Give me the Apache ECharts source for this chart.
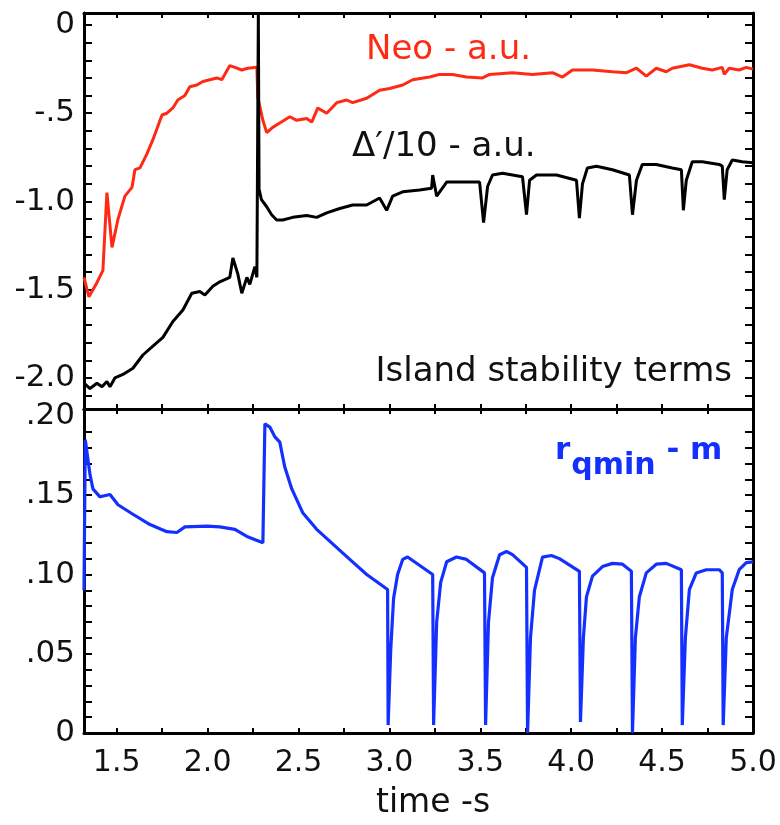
<!DOCTYPE html>
<html>
<head>
<meta charset="utf-8">
<script src="https://cdn.jsdelivr.net/npm/echarts@6/dist/echarts.min.js"></script>
<style>
html,body{margin:0;padding:0;background:#fff;}
#chart{width:780px;height:825px;}
</style>
</head>
<body>
<div id="chart"></div>
<script>
// ---- Data ----
var neoTime = [1.320,1.347,1.391,1.424,1.446,1.474,1.507,1.545,1.584,1.600,1.628,1.666,1.699,1.749,1.776,1.809,1.836,1.875,1.902,1.941,1.974,2.012,2.051,2.078,2.122,2.150,2.188,2.221,2.271,2.276,2.304,2.325,2.358,2.397,2.452,2.490,2.545,2.573,2.606,2.655,2.688,2.710,2.765,2.798,2.875,2.946,3.001,3.073,3.128,3.221,3.276,3.347,3.424,3.512,3.551,3.677,3.787,3.897,3.952,4.007,4.117,4.227,4.304,4.359,4.413,4.468,4.523,4.556,4.650,4.721,4.776,4.831,4.842,4.869,4.924,4.963,5.000];
var neoValue = [-1.43,-1.54,-1.46,-1.39,-0.95,-1.26,-1.10,-0.97,-0.92,-0.82,-0.81,-0.73,-0.65,-0.51,-0.50,-0.47,-0.425,-0.40,-0.35,-0.34,-0.32,-0.31,-0.30,-0.31,-0.23,-0.24,-0.255,-0.245,-0.24,-0.41,-0.54,-0.61,-0.58,-0.555,-0.52,-0.54,-0.53,-0.55,-0.47,-0.50,-0.465,-0.44,-0.425,-0.44,-0.415,-0.37,-0.36,-0.34,-0.31,-0.295,-0.28,-0.28,-0.295,-0.30,-0.28,-0.27,-0.28,-0.27,-0.295,-0.255,-0.255,-0.265,-0.27,-0.245,-0.29,-0.245,-0.265,-0.245,-0.225,-0.245,-0.255,-0.24,-0.28,-0.245,-0.255,-0.24,-0.25];

var deltaTime = [1.320,1.353,1.391,1.419,1.446,1.463,1.490,1.534,1.589,1.644,1.699,1.754,1.809,1.864,1.913,1.957,1.985,2.029,2.067,2.122,2.139,2.166,2.188,2.216,2.232,2.260,2.271,2.276,2.279,2.283,2.296,2.325,2.352,2.380,2.413,2.468,2.545,2.600,2.655,2.727,2.798,2.875,2.946,2.985,3.018,3.073,3.166,3.232,3.238,3.260,3.315,3.402,3.496,3.518,3.540,3.567,3.622,3.732,3.754,3.771,3.809,3.919,4.029,4.045,4.062,4.089,4.139,4.227,4.320,4.337,4.359,4.391,4.468,4.556,4.606,4.617,4.633,4.666,4.721,4.814,4.831,4.842,4.858,4.886,4.941,5.000];
var deltaValue = [-2.03,-2.06,-2.03,-2.05,-2.02,-2.05,-2.00,-1.98,-1.945,-1.87,-1.82,-1.77,-1.68,-1.615,-1.52,-1.51,-1.53,-1.48,-1.455,-1.43,-1.32,-1.41,-1.52,-1.43,-1.47,-1.37,-1.43,-1.43,0.068,-0.93,-0.99,-1.03,-1.075,-1.105,-1.105,-1.09,-1.08,-1.09,-1.065,-1.04,-1.02,-1.02,-0.98,-1.05,-0.97,-0.945,-0.935,-0.925,-0.85,-0.97,-0.89,-0.89,-0.89,-1.12,-0.915,-0.85,-0.84,-0.86,-1.075,-0.88,-0.85,-0.85,-0.88,-1.095,-0.90,-0.81,-0.80,-0.82,-0.85,-1.075,-0.88,-0.79,-0.79,-0.81,-0.82,-1.05,-0.88,-0.775,-0.775,-0.79,-0.80,-0.99,-0.82,-0.765,-0.775,-0.78];

var rqTime = [1.320,1.327,1.353,1.369,1.408,1.463,1.507,1.589,1.683,1.776,1.831,1.875,1.996,2.067,2.150,2.216,2.304,2.315,2.342,2.369,2.397,2.424,2.463,2.523,2.600,2.782,2.875,2.990,2.993,3.007,3.023,3.045,3.073,3.100,3.238,3.243,3.260,3.282,3.315,3.369,3.424,3.523,3.529,3.545,3.567,3.606,3.644,3.677,3.754,3.760,3.776,3.798,3.842,3.891,3.935,4.045,4.051,4.067,4.084,4.117,4.172,4.227,4.282,4.331,4.337,4.353,4.375,4.413,4.468,4.523,4.606,4.611,4.628,4.650,4.688,4.743,4.814,4.831,4.836,4.853,4.886,4.924,4.963,5.000];
var rqValue = [0.090,0.185,0.163,0.154,0.149,0.1505,0.144,0.138,0.1315,0.127,0.1265,0.130,0.1305,0.130,0.1285,0.124,0.120,0.195,0.193,0.187,0.1835,0.168,0.154,0.139,0.1285,0.1095,0.100,0.0905,0.005,0.052,0.085,0.100,0.1095,0.111,0.100,0.005,0.070,0.095,0.108,0.111,0.1095,0.101,0.005,0.070,0.098,0.1125,0.1145,0.1125,0.1045,0.000,0.060,0.090,0.111,0.112,0.110,0.102,0.007,0.060,0.086,0.099,0.105,0.107,0.1065,0.102,0.000,0.060,0.086,0.101,0.1065,0.107,0.103,0.005,0.060,0.0905,0.101,0.103,0.103,0.101,0.005,0.060,0.0905,0.103,0.1075,0.108];

// ---- Axis ticks and labels ----
var xTickValues = [1.5,1.75,2.0,2.25,2.5,2.75,3.0,3.25,3.5,3.75,4.0,4.25,4.5,4.75,5.0];
var xLabelValues = [1.5,2.0,2.5,3.0,3.5,4.0,4.5,5.0];
var xLabelText = ['1.5','2.0','2.5','3.0','3.5','4.0','4.5','5.0'];
var topYTicks = [-2.1,-2.0,-1.9,-1.8,-1.7,-1.6,-1.5,-1.4,-1.3,-1.2,-1.1,-1.0,-0.9,-0.8,-0.7,-0.6,-0.5,-0.4,-0.3,-0.2,-0.1,0];
var topYLabels = [0,-0.5,-1.0,-1.5,-2.0];
var topYLabelText = ['0','-.5','-1.0','-1.5','-2.0'];
var botYTicks = [0.01,0.02,0.03,0.04,0.05,0.06,0.07,0.08,0.09,0.10,0.11,0.12,0.13,0.14,0.15,0.16,0.17,0.18,0.19];
var botYLabels = [0,0.05,0.10,0.15,0.20];
var botYLabelText = ['0','.05','.10','.15','.20'];

function zip(a,b){var o=[];for(var i=0;i<a.length;i++)o.push([a[i],b[i]]);return o;}
function lookup(vals,texts){return function(v){for(var i=0;i<vals.length;i++){if(Math.abs(vals[i]-v)<1e-6)return texts[i];}return '';};}

var FONT = 'DejaVu Sans';

function xAx(grid,pos,labels){
  return {
    type:'value', gridIndex:grid, position:pos, min:1.32, max:5.0,
    axisLine:{show:true,onZero:false,lineStyle:{color:'#000',width:3}},
    axisTick:{show:true,inside:true,length:5,customValues:xTickValues,lineStyle:{color:'#000',width:2}},
    axisLabel:labels?{show:true,customValues:xLabelValues,formatter:lookup(xLabelValues,xLabelText),color:'#111',fontFamily:FONT,fontSize:30,margin:15}:{show:false},
    splitLine:{show:false}
  };
}
function yAx(grid,pos,mn,mx,ticks,labs,texts){
  return {
    type:'value', gridIndex:grid, position:pos, min:mn, max:mx,
    axisLine:{show:true,onZero:false,lineStyle:{color:'#000',width:3}},
    axisTick:{show:true,inside:true,length:8,customValues:ticks,lineStyle:{color:'#000',width:2}},
    axisLabel:labs?{show:true,customValues:labs,formatter:lookup(labs,texts),color:'#111',fontFamily:FONT,fontSize:31,margin:9}:{show:false},
    splitLine:{show:false}
  };
}

var chart = echarts.init(document.getElementById('chart'),null,{renderer:'canvas'});
chart.setOption({
  animation:false,
  backgroundColor:'#fff',
  grid:[
    {left:84,right:27,top:13,height:396},
    {left:84,right:27,top:409,height:324}
  ],
  xAxis:[xAx(0,'bottom',false),xAx(0,'top',false),xAx(1,'bottom',true),xAx(1,'top',false)],
  yAxis:[
    yAx(0,'left',-2.176,0.068,topYTicks,topYLabels,topYLabelText),
    yAx(0,'right',-2.176,0.068,topYTicks,null,null),
    yAx(1,'left',0,0.2044,botYTicks,botYLabels,botYLabelText),
    yAx(1,'right',0,0.2044,botYTicks,null,null)
  ],
  series:[
    {type:'line',name:'Neo',xAxisIndex:0,yAxisIndex:0,data:zip(neoTime,neoValue),showSymbol:false,clip:true,lineStyle:{color:'#ff2a14',width:3},itemStyle:{color:'#ff2a14'}},
    {type:'line',name:'Delta',xAxisIndex:0,yAxisIndex:0,data:zip(deltaTime,deltaValue),showSymbol:false,clip:true,lineStyle:{color:'#000',width:3},itemStyle:{color:'#000'}},
    {type:'line',name:'rqmin',xAxisIndex:2,yAxisIndex:2,data:zip(rqTime,rqValue),showSymbol:false,clip:true,lineStyle:{color:'#1430ff',width:3.2},itemStyle:{color:'#1430ff'}}
  ],
  graphic:[
    {type:'text',left:366,top:33,style:{text:'Neo - a.u.',fill:'#ff2a14',font:'34px "DejaVu Sans"'}},
    {type:'text',left:352,top:130,style:{text:'\u0394\u2032/10 - a.u.',fill:'#111',font:'34px "DejaVu Sans"'}},
    {type:'text',right:48,top:355,style:{text:'Island stability terms',fill:'#111',font:'34px "DejaVu Sans"'}},
    {type:'text',left:555,top:435,style:{
      text:'{r|r}{s|qmin}{r| - m}',
      rich:{
        r:{fill:'#1430ff',fontFamily:FONT,fontWeight:'bold',fontSize:31,verticalAlign:'top'},
        s:{fill:'#1430ff',fontFamily:FONT,fontWeight:'bold',fontSize:30,padding:[16,0,0,1]}
      }}},
    {type:'text',left:376,top:787,style:{text:'time -s',fill:'#111',font:'33px "DejaVu Sans"'}}
  ]
});
</script>
</body>
</html>
